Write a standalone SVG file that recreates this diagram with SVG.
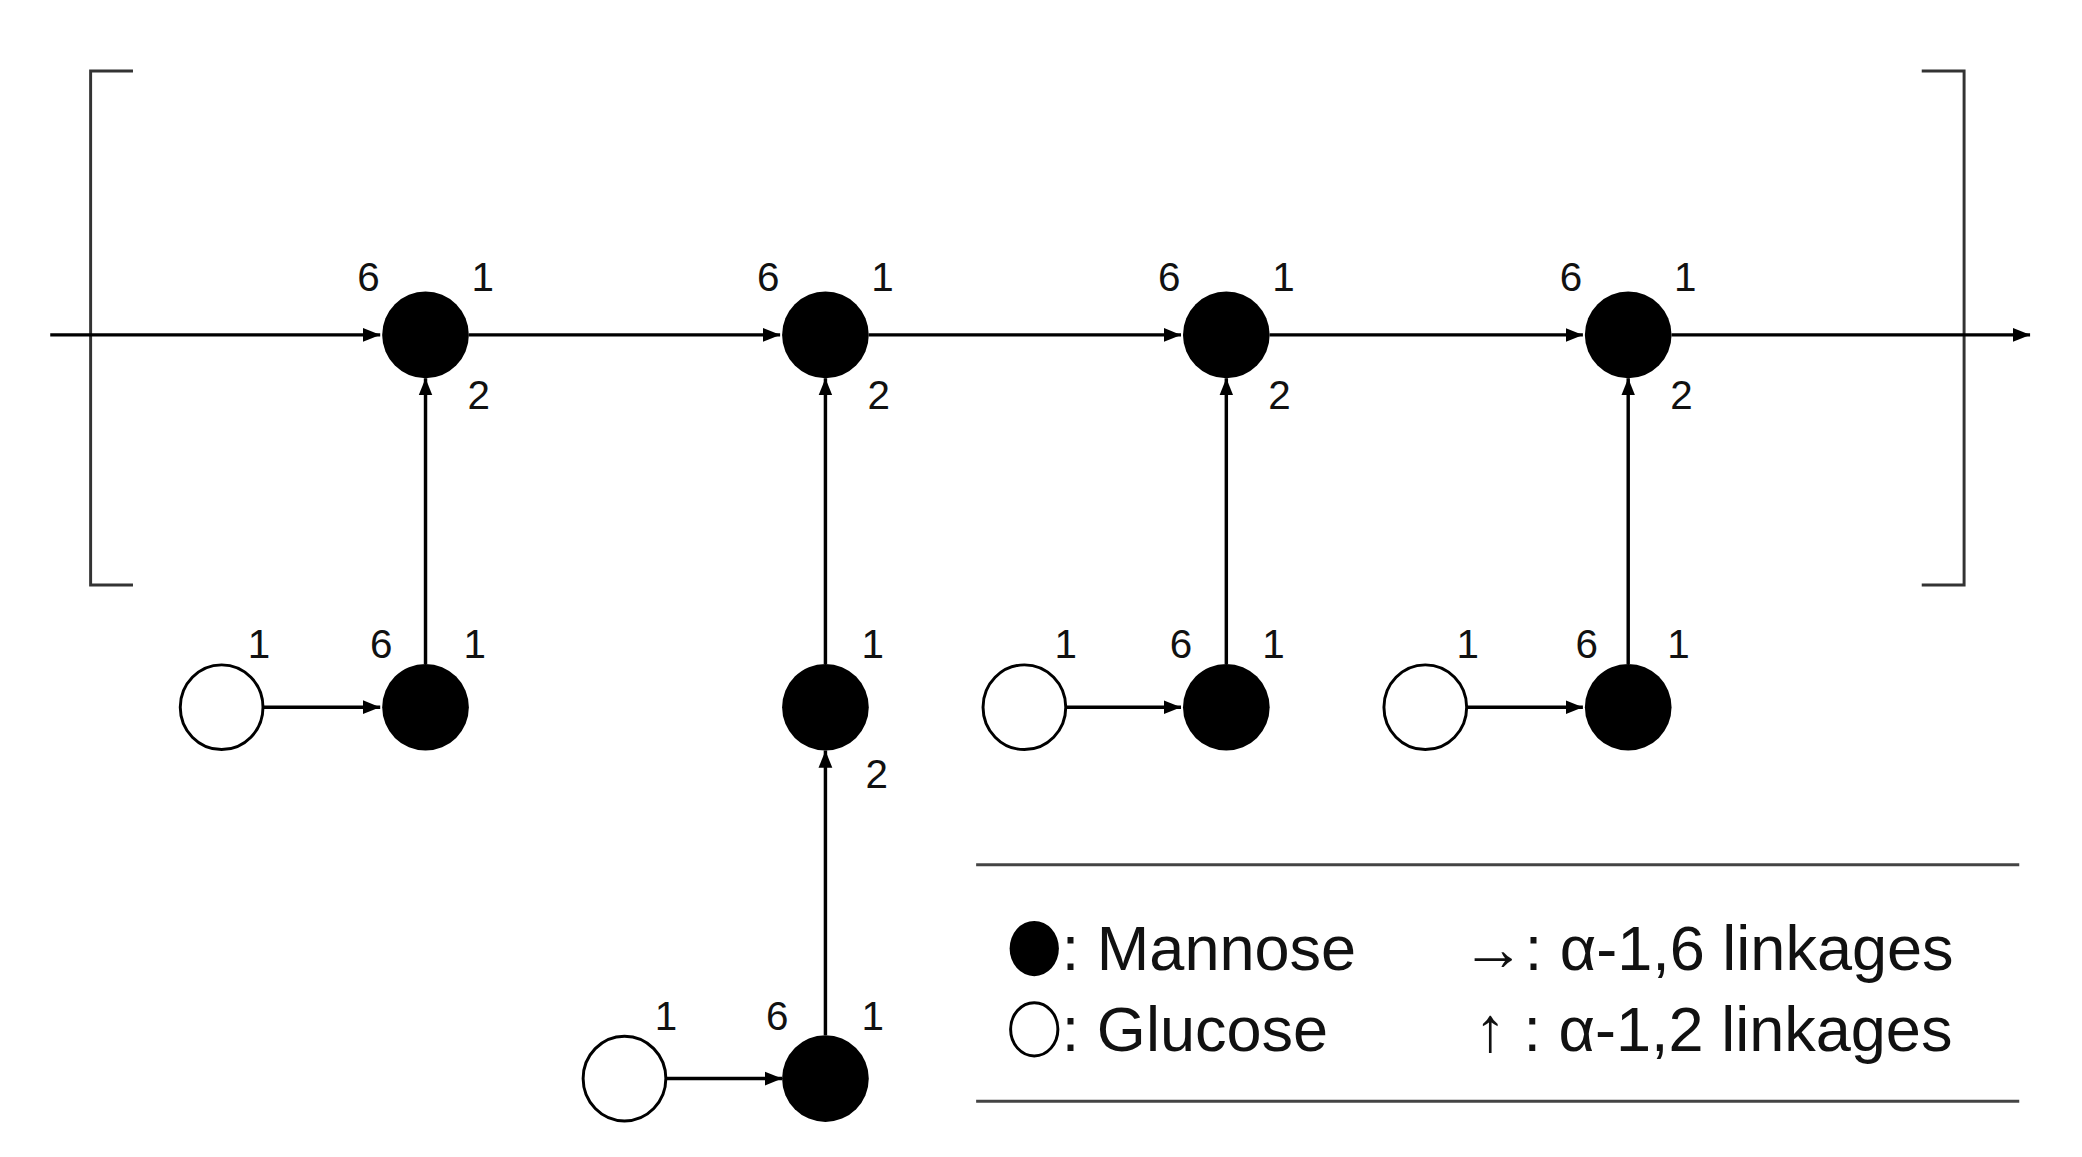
<svg xmlns="http://www.w3.org/2000/svg" width="2082" height="1157" viewBox="0 0 2082 1157">
<style>
.m{fill:#000}
.g{fill:#fff;stroke:#000;stroke-width:3}
.c line{stroke:#000;stroke-width:3.5}
.a{marker-end:url(#ah)}
text{font-family:"Liberation Sans",Arial,sans-serif;font-size:41px;fill:#111}
.l{font-size:64px}
.br{fill:none;stroke:#333;stroke-width:3}
</style>
<defs><marker id="ah" viewBox="0 0 10 10" refX="10" refY="5" markerWidth="5" markerHeight="5" orient="auto" markerUnits="strokeWidth"><path d="M0,1 L10,5 L0,9 z" fill="#000"/></marker></defs>
<rect width="2082" height="1157" fill="#fff"/>
<g transform="scale(0.985)">
<path class="br" d="M135,72 H92 V594 H135"/>
<path class="br" d="M1951,72 H1994 V594 H1951"/>
<g class="c">
<line class="a" x1="51" y1="340" x2="386" y2="340"/>
<line class="a" x1="476" y1="340" x2="792" y2="340"/>
<line class="a" x1="882" y1="340" x2="1199" y2="340"/>
<line class="a" x1="1289" y1="340" x2="1607" y2="340"/>
<line class="a" x1="1697" y1="340" x2="2061" y2="340"/>
<line class="a" x1="432" y1="674" x2="432" y2="384"/>
<line class="a" x1="838" y1="674" x2="838" y2="384"/>
<line class="a" x1="1245" y1="674" x2="1245" y2="384"/>
<line class="a" x1="1653" y1="674" x2="1653" y2="384"/>
<line class="a" x1="838" y1="1051" x2="838" y2="762"/>
<line class="a" x1="268" y1="718" x2="386" y2="718"/>
<line class="a" x1="1083" y1="718" x2="1199" y2="718"/>
<line class="a" x1="1490" y1="718" x2="1607" y2="718"/>
<line class="a" x1="677" y1="1095" x2="794" y2="1095"/>
</g>
<g id="m1"><circle class="m" cx="432" cy="340" r="44"/></g>
<g id="m2"><circle class="m" cx="838" cy="340" r="44"/></g>
<g id="m3"><circle class="m" cx="1245" cy="340" r="44"/></g>
<g id="m4"><circle class="m" cx="1653" cy="340" r="44"/></g>
<g id="m5"><circle class="m" cx="432" cy="718" r="44"/></g>
<g id="m6"><circle class="m" cx="838" cy="718" r="44"/></g>
<g id="m7"><circle class="m" cx="1245" cy="718" r="44"/></g>
<g id="m8"><circle class="m" cx="1653" cy="718" r="44"/></g>
<g id="m9"><circle class="m" cx="838" cy="1095" r="44"/></g>
<g id="g1"><ellipse class="g" cx="225" cy="718" rx="42" ry="43"/></g>
<g id="g2"><ellipse class="g" cx="1040" cy="718" rx="42" ry="43"/></g>
<g id="g3"><ellipse class="g" cx="1447" cy="718" rx="42" ry="43"/></g>
<g id="g4"><ellipse class="g" cx="634" cy="1095" rx="42" ry="43"/></g>
<g id="labels" text-anchor="middle">
<text x="374" y="295">6</text><text x="490" y="295">1</text><text x="486" y="415">2</text>
<text x="780" y="295">6</text><text x="896" y="295">1</text><text x="892" y="415">2</text>
<text x="1187" y="295">6</text><text x="1303" y="295">1</text><text x="1299" y="415">2</text>
<text x="1595" y="295">6</text><text x="1711" y="295">1</text><text x="1707" y="415">2</text>
<text x="263" y="668">1</text><text x="387" y="668">6</text><text x="482" y="668">1</text>
<text x="886" y="668">1</text><text x="890" y="800">2</text>
<text x="1082" y="668">1</text><text x="1199" y="668">6</text><text x="1293" y="668">1</text>
<text x="1490" y="668">1</text><text x="1611" y="668">6</text><text x="1704" y="668">1</text>
<text x="676" y="1046">1</text><text x="789" y="1046">6</text><text x="886" y="1046">1</text>
</g>
<g id="legend">
<line x1="991" y1="878" x2="2050" y2="878" stroke="#444" stroke-width="3"/>
<line x1="991" y1="1118" x2="2050" y2="1118" stroke="#444" stroke-width="3"/>
<ellipse class="m" cx="1050" cy="963" rx="25" ry="28"/>
<text class="l" x="1078" y="985">: Mannose</text>
<ellipse class="g" cx="1050" cy="1045" rx="24" ry="27" stroke-width="2.5"/>
<text class="l" x="1078" y="1067">: Glucose</text>
<text class="l" x="1484" y="985">→: α-1,6 linkages</text>
<text class="l" x="1497" y="1067">↑ : α-1,2 linkages</text>
</g>
</g>
</svg>
